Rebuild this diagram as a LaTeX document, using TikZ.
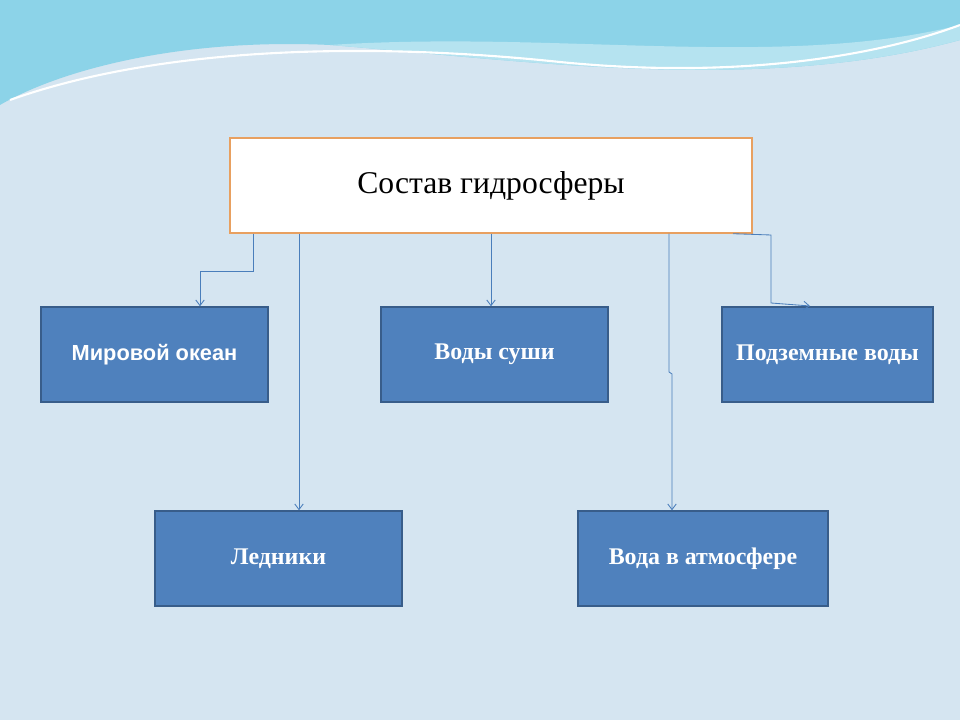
\documentclass[tikz,border=0pt]{standalone}
\usepackage{fontspec}
\setmainfont{Liberation Serif}
\setsansfont{Liberation Sans}
\usetikzlibrary{arrows.meta}
\definecolor{bg}{HTML}{D5E5F1}
\definecolor{wave}{HTML}{5BC0DE}
\definecolor{boxfill}{HTML}{4F81BD}
\definecolor{boxline}{HTML}{385D8A}
\definecolor{linkc}{HTML}{4A7EBB}
\definecolor{titleline}{HTML}{E8A060}
\tikzset{
  part/.style={draw=boxline, line width=1pt, fill=boxfill, text=white,
    font=\bfseries\fontsize{17}{20}\selectfont, inner sep=0pt},
  link/.style={draw=linkc, line width=0.6pt, -{Straight Barb[length=4pt,width=6pt]}}
}
\begin{document}
\begin{tikzpicture}[x=0.025cm,y=-0.025cm]
        \useasboundingbox (0,0) rectangle (960,720);
        % Fon
        \fill[bg] (0,0) rectangle (960,720);
        \fill[wave!70] (0,0) -- (960,0) -- (960,40) .. controls (760,95) and (520,60) .. (330,45)
            .. controls (180,38) and (60,70) .. (0,105) -- cycle;
        \fill[wave!45] (330,45) .. controls (520,60) and (760,95) .. (960,40) -- (960,25)
            .. controls (780,70) and (560,30) .. (330,45) -- cycle;
        \draw[white, line width=1.5pt] (10,100) .. controls (150,50) and (350,40) .. (560,62)
            .. controls (740,80) and (880,55) .. (960,25);

        % Knoten
        \node[draw=titleline, line width=1pt, fill=white, minimum width=13.05cm,
            minimum height=2.375cm, font=\fontsize{22.5}{26}\selectfont] (title) at (491,185.5) {Состав гидросферы};
        \node[part, minimum width=5.675cm, minimum height=2.375cm, font=\sffamily\bfseries\fontsize{15.5}{18}\selectfont]
            (ocean) at (154.5,354.5) {Мировой океан};
        \node[part, minimum width=5.675cm, minimum height=2.375cm] (land) at (494.5,354.5) {Воды суши};
        \node[part, minimum width=5.275cm, minimum height=2.375cm] (ground) at (827.5,354.5) {Подземные воды};
        \node[part, minimum width=6.175cm, minimum height=2.375cm] (ice) at (278.5,558.5) {Ледники};
        \node[part, minimum width=6.25cm, minimum height=2.375cm] (air) at (703,558.5) {Вода в атмосфере};

        % Linien
        \draw[link] (title.south -| 253,0) |- (200,271) -- (ocean.north -| 200,0);
        \draw[link] (title.south -| 299,0) -- (ice.north -| 299,0);
        \draw[link] (title.south -| 491,0) -- (land.north -| 491,0);
        \draw[link] (title.south -| 669,0) -- (669,372) -- (672,374) -- (air.north -| 672,0);
        \draw[link] (title.south -| 733,0) -- (771,235) -- (771,303) -- (810,306);
\end{tikzpicture}
\end{document}
